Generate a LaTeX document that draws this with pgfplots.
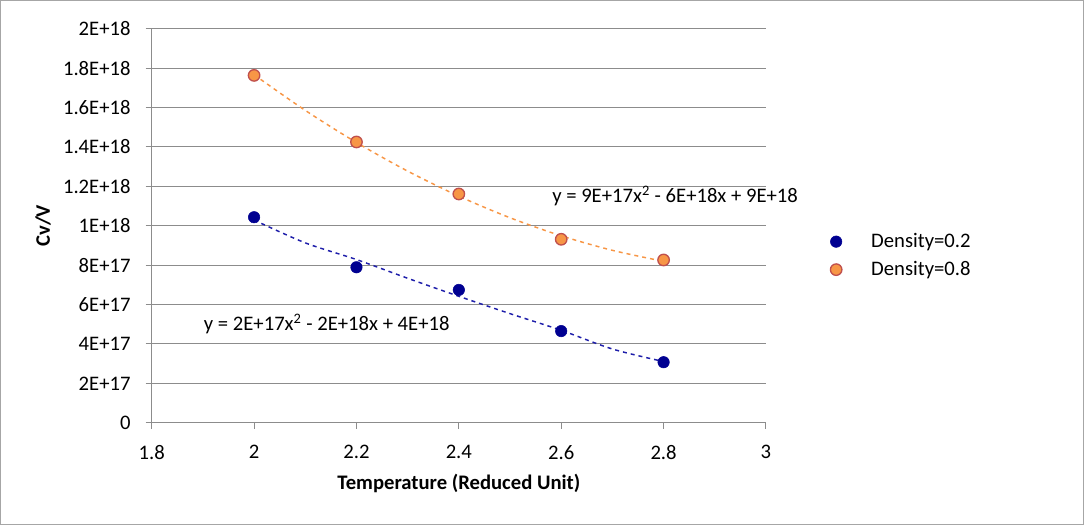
\documentclass[border=0pt]{standalone}
\usepackage{fontspec}
\setmainfont{Carlito}
\usepackage{pgfplots}
\pgfplotsset{compat=1.18}
\definecolor{bluept}{RGB}{0,0,145}
\definecolor{bluetr}{RGB}{30,30,170}
\definecolor{orgfill}{RGB}{247,150,70}
\definecolor{orgedge}{RGB}{192,80,77}
\definecolor{orgtr}{RGB}{247,150,70}
\definecolor{gridgray}{RGB}{140,140,140}
\begin{document}
\fontsize{15.5}{18}\selectfont
\begin{tikzpicture}
\useasboundingbox (0pt,0pt) rectangle (813pt,393.75pt);
\draw[gray!70, line width=0.75pt] (0.375pt,0.375pt) rectangle (812.6pt,393.4pt);
\begin{axis}[
  at={(113.775pt,76.725pt)}, anchor=south west,
  scale only axis, width=460.7pt, height=295.5pt,
  xmin=1.8, xmax=3, ymin=0, ymax=2e18,
  scaled y ticks=false,
  xtick={1.8,2,2.2,2.4,2.6,2.8,3},
  xticklabels={1.8,2,2.2,2.4,2.6,2.8,3},
  ytick={0,2e17,4e17,6e17,8e17,1e18,1.2e18,1.4e18,1.6e18,1.8e18,2e18},
  yticklabels={0,2E+17,4E+17,6E+17,8E+17,1E+18,1.2E+18,1.4E+18,1.6E+18,1.8E+18,2E+18},
  xticklabel style={yshift=-7pt},
  yticklabel style={xshift=-6pt},
  axis lines*=left,
  axis line style={gridgray, line width=0.75pt},
  tick align=outside, major tick length=4.5pt,
  tick style={gridgray, line width=0.75pt},
  ymajorgrids, grid style={gridgray, line width=0.75pt},
  clip=false,
  xlabel={\textbf{Temperature (Reduced Unit)}},
  ylabel={\textbf{Cv/V}},
  xlabel style={at={(axis description cs:0.5,-0.155)}, anchor=center},
  ylabel style={at={(axis description cs:-0.177,0.5)}, anchor=center},
  legend style={at={(1.098,0.424)}, anchor=west, draw=none, fill=none, row sep=4pt,
    /tikz/every odd column/.append style={column sep=20pt}},
  legend cell align=left,
]
\addplot[bluetr, dashed, line width=1.1pt, smooth, forget plot] coordinates {
(2.0,10.288e17)(2.1,9.128e17)(2.2,8.282e17)(2.3,7.332e17)(2.4,6.416e17)(2.5,5.536e17)(2.6,4.690e17)(2.7,3.740e17)(2.8,3.104e17)};
\addplot[orgtr, dashed, line width=1.1pt, smooth, forget plot] coordinates {
(2.0,17.662e17)(2.1,15.853e17)(2.2,14.223e17)(2.3,12.771e17)(2.4,11.498e17)(2.5,10.403e17)(2.6,9.487e17)(2.7,8.749e17)(2.8,8.190e17)};
\addplot[only marks, mark=*, mark size=4.3pt, mark options={fill=bluept, draw=bluept}] coordinates {
(2.0,10.43e17)(2.2,7.89e17)(2.4,6.74e17)(2.6,4.65e17)(2.8,3.07e17)};
\addlegendentry{Density=0.2}
\addplot[only marks, mark=*, mark size=4.3pt, mark options={fill=orgfill, draw=orgedge, line width=1pt}] coordinates {
(2.0,17.63e17)(2.2,14.25e17)(2.4,11.61e17)(2.6,9.31e17)(2.8,8.26e17)};
\addlegendentry{Density=0.8}
\node[anchor=west, inner sep=0pt] at (axis cs:1.9015,5.0e17) {y = 2E+17x\textsuperscript{2} - 2E+18x + 4E+18};
\node[anchor=west, inner sep=0pt] at (axis cs:2.582,11.52e17) {y = 9E+17x\textsuperscript{2} - 6E+18x + 9E+18};
\end{axis}
\end{tikzpicture}
\end{document}
